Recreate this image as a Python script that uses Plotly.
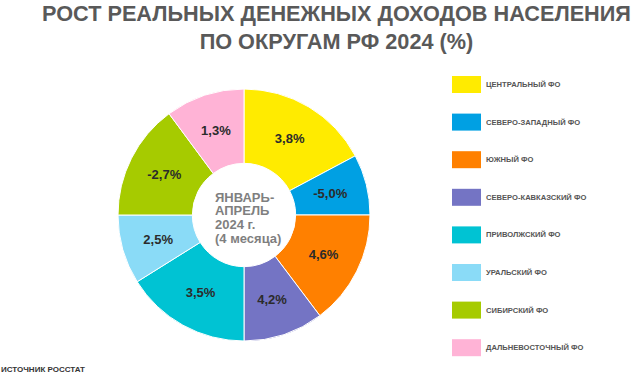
import plotly.graph_objects as go

# ---------------- data ----------------
districts = ["ЦЕНТРАЛЬНЫЙ ФО", "СЕВЕРО-ЗАПАДНЫЙ ФО", "ЮЖНЫЙ ФО", "СЕВЕРО-КАВКАЗСКИЙ ФО",
             "ПРИВОЛЖСКИЙ ФО", "УРАЛЬСКИЙ ФО", "СИБИРСКИЙ ФО", "ДАЛЬНЕВОСТОЧНЫЙ ФО"]
income_growth = [3.8, -5.0, 4.6, 4.2, 3.5, 2.5, -2.7, 1.3]
slice_size = [62, 28, 53, 37, 58, 32, 53.5, 36.5]
colors = ["#FFEB00", "#00A0E3", "#FF8000", "#7474C4",
          "#00C3D3", "#8ADBF7", "#A6CB00", "#FFB3D6"]
center_lines = ["ЯНВАРЬ-", "АПРЕЛЬ", "2024 г.", "(4 месяца)"]
title_text = "РОСТ РЕАЛЬНЫХ ДЕНЕЖНЫХ ДОХОДОВ НАСЕЛЕНИЯ<br>ПО ОКРУГАМ РФ 2024 (%)"
source_text = "ИСТОЧНИК РОССТАТ"

value_text = [f"{v:.1f}%".replace(".", ",") for v in income_growth]

# ---------------- geometry helpers ----------------
W, H = 631, 374
FONT = "Liberation Sans, Arial, sans-serif"


def px(x):
    return x / W


def py(y):
    return 1 - y / H


cx, cy = 244, 215
R_OUT = 126
R_TXT = 110

fig = go.Figure()

fig.add_trace(go.Pie(
    labels=districts, values=slice_size, hole=0.41, sort=False,
    direction="clockwise", rotation=0,
    marker=dict(colors=colors, line=dict(color="white", width=1)),
    textinfo="none", showlegend=False, hoverinfo="label",
    domain=dict(x=[px(cx - R_OUT), px(cx + R_OUT)],
                y=[py(cy + R_OUT), py(cy - R_OUT)]),
))

# transparent overlay ring used only to place the value labels mid-ring
fig.add_trace(go.Pie(
    labels=value_text, values=slice_size, hole=0.62, sort=False,
    direction="clockwise", rotation=0,
    marker=dict(colors=["rgba(0,0,0,0)"] * len(slice_size), line=dict(width=0)),
    text=value_text, textinfo="text", textposition="inside",
    insidetextorientation="horizontal",
    textfont=dict(family=FONT, size=13, color="#2b2b2b", weight="bold"),
    showlegend=False, hoverinfo="skip",
    domain=dict(x=[px(cx - R_TXT), px(cx + R_TXT)],
                y=[py(cy + R_TXT), py(cy - R_TXT)]),
))

annotations = []
shapes = []

# title
annotations.append(dict(
    text=title_text, x=px(336), y=1, xref="paper", yref="paper",
    xanchor="center", yanchor="top", showarrow=False, align="center",
    borderpad=0,
    font=dict(family=FONT, size=21.7, color="#595959", weight="bold"),
))

# centre text (left aligned block)
for i, line in enumerate(center_lines):
    annotations.append(dict(
        text=line, x=px(213), y=py(197 + i * 13.8), xref="paper", yref="paper",
        xanchor="left", yanchor="middle", showarrow=False,
        font=dict(family=FONT, size=13, color="#7f7f7f", weight="bold"),
    ))

# legend
for i, (name, col) in enumerate(zip(districts, colors)):
    yc = 84.5 + i * 37.6
    shapes.append(dict(
        type="rect", xref="paper", yref="paper",
        x0=px(452), x1=px(481), y0=py(yc + 8.5), y1=py(yc - 8.5),
        fillcolor=col, line=dict(width=0),
    ))
    annotations.append(dict(
        text=name, x=px(484), y=py(yc), xref="paper", yref="paper",
        xanchor="left", yanchor="middle", showarrow=False,
        font=dict(family=FONT, size=7.6, color="#555555", weight="bold"),
    ))

# source
annotations.append(dict(
    text=source_text, x=px(-1), y=py(369), xref="paper", yref="paper",
    xanchor="left", yanchor="middle", showarrow=False,
    font=dict(family=FONT, size=8, color="#333333", weight="bold"),
))

fig.update_layout(
    width=W, height=H,
    margin=dict(l=0, r=0, t=0, b=0),
    paper_bgcolor="white", plot_bgcolor="white",
    annotations=annotations, shapes=shapes,
    showlegend=False,
)

fig.write_html(
    "out.html",
    config={"displayModeBar": False},
    post_script="document.body.style.margin='0';document.body.style.padding='0';"
                "document.documentElement.style.overflow='hidden';",
)
